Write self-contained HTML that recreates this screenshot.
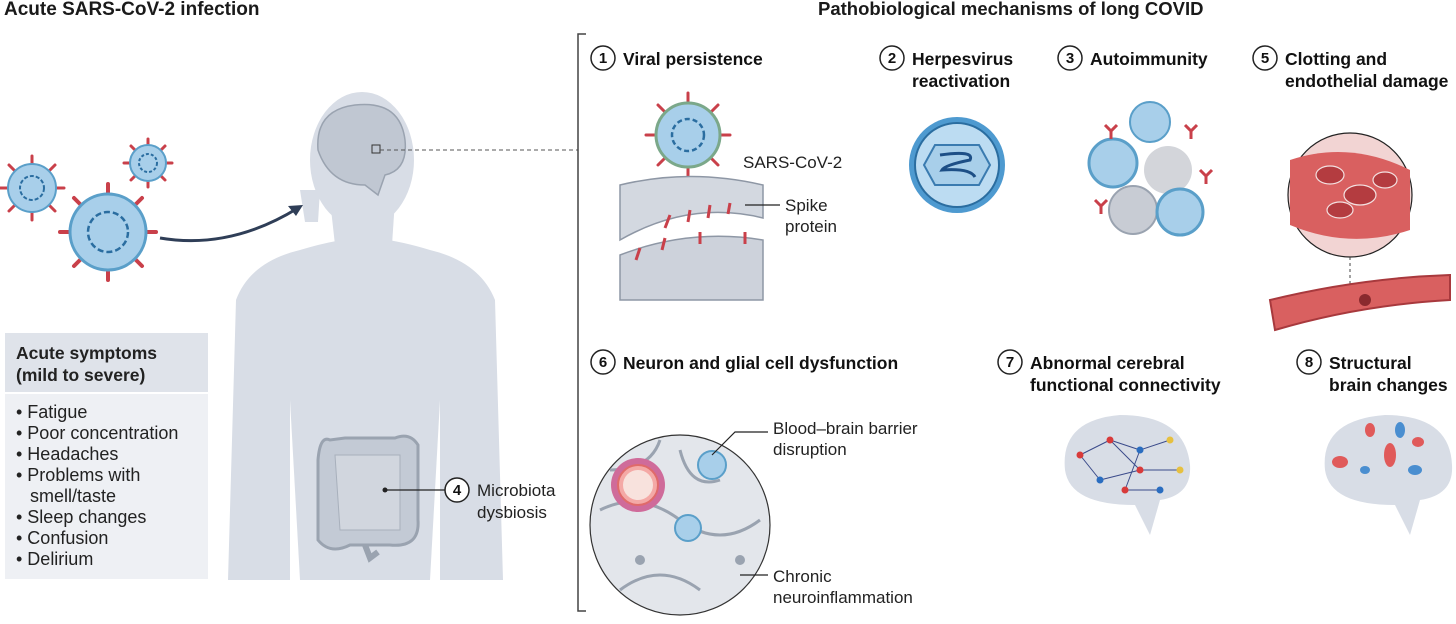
<!DOCTYPE html>
<html><head><meta charset="utf-8"><style>
html,body{margin:0;padding:0;background:#fff;}
svg{display:block;font-family:"Liberation Sans",sans-serif;}
.t{font-weight:bold;fill:#1a1a1a;}
.l{font-size:17px;fill:#222;}
.n{font-weight:bold;font-size:15px;fill:#111;}
.h{font-weight:bold;font-size:17.5px;fill:#111;}
</style></head><body>
<svg width="1456" height="624" viewBox="0 0 1456 624" xmlns="http://www.w3.org/2000/svg">
<text x="4" y="15" class="t" font-size="19">Acute SARS-CoV-2 infection</text>
<text x="818" y="15" class="t" font-size="18.5">Pathobiological mechanisms of long COVID</text>

<g fill="#d8dde6">
  <ellipse cx="362" cy="160" rx="52" ry="68"/>
  <path d="M330,200 L395,200 L392,245 L335,245 Z"/>
  <path d="M300,190 L320,190 L318,222 L305,222 Z"/>
  <path d="M300,250 Q340,238 365,238 Q390,238 430,250 Q480,262 495,300 L503,580 L440,580 L440,400 L430,580 L300,580 L290,400 L290,580 L228,580 L236,300 Q250,262 300,250 Z"/>
</g>
<path d="M318,150 Q315,110 355,105 Q400,100 405,140 Q408,170 385,175 L378,195 L365,185 Q330,185 318,150 Z" fill="#c0c7d2" stroke="#9aa3b0" stroke-width="1.5"/>
<rect x="372" y="145" width="8" height="8" fill="none" stroke="#333" stroke-width="1"/>
<line x1="380" y1="150" x2="578" y2="150" stroke="#555" stroke-width="1" stroke-dasharray="4,3"/>
<path d="M330,440 Q320,435 318,460 L318,540 Q330,555 350,545 L390,545 Q420,548 418,520 L418,445 Q410,432 395,438 L345,438 Z" fill="#c3cad5" stroke="#9aa3b0" stroke-width="3"/>
<path d="M335,455 L400,455 L400,530 L340,530 Z" fill="#d1d6de" stroke="#a8b0bc" stroke-width="1"/>
<path d="M365,545 L370,558 L378,552" fill="none" stroke="#9aa3b0" stroke-width="6"/>
<line x1="385" y1="490" x2="445" y2="490" stroke="#222" stroke-width="1.2"/>
<circle cx="385" cy="490" r="2.5" fill="#222"/>
<circle cx="457" cy="490" r="12" fill="#fff" stroke="#222" stroke-width="1.5"/><text x="457" y="495" text-anchor="middle" class="n">4</text>
<text x="477" y="496" class="l">Microbiota</text><text x="477" y="518" class="l">dysbiosis</text>

<path d="M160,238 Q230,250 298,208" fill="none" stroke="#2f3e57" stroke-width="3"/>
<path d="M303,205 L288,206 L296,216 Z" fill="#2f3e57"/>

<g>
  <g transform="translate(32,188)">
    <g stroke="#c9404a" stroke-width="3" stroke-linecap="round">
      <line x1="0" y1="-24" x2="0" y2="-32"/><line x1="0" y1="24" x2="0" y2="32"/><line x1="-24" y1="0" x2="-32" y2="0"/><line x1="24" y1="0" x2="32" y2="0"/>
      <line x1="17" y1="17" x2="23" y2="23"/><line x1="-17" y1="17" x2="-23" y2="23"/><line x1="17" y1="-17" x2="23" y2="-23"/><line x1="-17" y1="-17" x2="-23" y2="-23"/>
    </g>
    <circle r="24" fill="#a8cfea" stroke="#5a9fc9" stroke-width="2"/>
    <circle r="12" fill="none" stroke="#2a6da0" stroke-width="2" stroke-dasharray="4,2"/>
  </g>
  <g transform="translate(148,163)">
    <g stroke="#c9404a" stroke-width="3" stroke-linecap="round">
      <line x1="0" y1="-18" x2="0" y2="-24"/><line x1="0" y1="18" x2="0" y2="24"/><line x1="-18" y1="0" x2="-24" y2="0"/><line x1="18" y1="0" x2="24" y2="0"/>
      <line x1="13" y1="13" x2="17" y2="17"/><line x1="-13" y1="13" x2="-17" y2="17"/><line x1="13" y1="-13" x2="17" y2="-17"/><line x1="-13" y1="-13" x2="-17" y2="-17"/>
    </g>
    <circle r="18" fill="#a8cfea" stroke="#5a9fc9" stroke-width="2"/>
    <circle r="9" fill="none" stroke="#2a6da0" stroke-width="2" stroke-dasharray="3,2"/>
  </g>
  <g transform="translate(108,232)">
    <g stroke="#c9404a" stroke-width="4" stroke-linecap="round">
      <line x1="0" y1="-38" x2="0" y2="-48"/><line x1="0" y1="38" x2="0" y2="48"/><line x1="-38" y1="0" x2="-48" y2="0"/><line x1="38" y1="0" x2="48" y2="0"/>
      <line x1="27" y1="27" x2="34" y2="34"/><line x1="-27" y1="27" x2="-34" y2="34"/><line x1="27" y1="-27" x2="34" y2="-34"/><line x1="-27" y1="-27" x2="-34" y2="-34"/>
    </g>
    <circle r="38" fill="#a8cfea" stroke="#5a9fc9" stroke-width="3"/>
    <circle r="20" fill="none" stroke="#2a6da0" stroke-width="2.5" stroke-dasharray="6,3"/>
  </g>
</g>

<rect x="5" y="333" width="203" height="59" fill="#dfe3ea"/>
<rect x="5" y="394" width="203" height="185" fill="#eef0f4"/>
<text x="16" y="359" font-weight="bold" font-size="17.5" fill="#222">Acute symptoms</text>
<text x="16" y="381" font-weight="bold" font-size="17.5" fill="#222">(mild to severe)</text>
<g font-size="18" fill="#222">
<text x="16" y="418">• Fatigue</text>
<text x="16" y="439">• Poor concentration</text>
<text x="16" y="460">• Headaches</text>
<text x="16" y="481">• Problems with</text>
<text x="30" y="502">smell/taste</text>
<text x="16" y="523">• Sleep changes</text>
<text x="16" y="544">• Confusion</text>
<text x="16" y="565">• Delirium</text>
</g>

<path d="M586,34 L578,34 L578,611 L586,611" fill="none" stroke="#444" stroke-width="1.5"/>

<g>
<circle cx="603" cy="58" r="12" fill="#fff" stroke="#222" stroke-width="1.5"/><text x="603" y="63" text-anchor="middle" class="n">1</text>
<text x="623" y="65" class="h">Viral persistence</text>
<circle cx="892" cy="58" r="12" fill="#fff" stroke="#222" stroke-width="1.5"/><text x="892" y="63" text-anchor="middle" class="n">2</text>
<text x="912" y="65" class="h">Herpesvirus</text><text x="912" y="87" class="h">reactivation</text>
<circle cx="1070" cy="58" r="12" fill="#fff" stroke="#222" stroke-width="1.5"/><text x="1070" y="63" text-anchor="middle" class="n">3</text>
<text x="1090" y="65" class="h">Autoimmunity</text>
<circle cx="1265" cy="58" r="12" fill="#fff" stroke="#222" stroke-width="1.5"/><text x="1265" y="63" text-anchor="middle" class="n">5</text>
<text x="1285" y="65" class="h">Clotting and</text><text x="1285" y="87" class="h">endothelial damage</text>
<circle cx="603" cy="362" r="12" fill="#fff" stroke="#222" stroke-width="1.5"/><text x="603" y="367" text-anchor="middle" class="n">6</text>
<text x="623" y="369" class="h">Neuron and glial cell dysfunction</text>
<circle cx="1010" cy="362" r="12" fill="#fff" stroke="#222" stroke-width="1.5"/><text x="1010" y="367" text-anchor="middle" class="n">7</text>
<text x="1030" y="369" class="h">Abnormal cerebral</text><text x="1030" y="391" class="h">functional connectivity</text>
<circle cx="1309" cy="362" r="12" fill="#fff" stroke="#222" stroke-width="1.5"/><text x="1309" y="367" text-anchor="middle" class="n">8</text>
<text x="1329" y="369" class="h">Structural</text><text x="1329" y="391" class="h">brain changes</text>
</g>

<g transform="translate(688,135)">
  <g stroke="#c9404a" stroke-width="3" stroke-linecap="round">
    <line x1="0" y1="-32" x2="0" y2="-42"/><line x1="0" y1="32" x2="0" y2="42"/><line x1="-32" y1="0" x2="-42" y2="0"/><line x1="32" y1="0" x2="42" y2="0"/>
    <line x1="23" y1="23" x2="30" y2="30"/><line x1="-23" y1="23" x2="-30" y2="30"/><line x1="23" y1="-23" x2="30" y2="-30"/><line x1="-23" y1="-23" x2="-30" y2="-30"/>
  </g>
  <circle r="32" fill="#a8cfea" stroke="#7ba88a" stroke-width="3"/>
  <circle r="16" fill="none" stroke="#2a6da0" stroke-width="2.5" stroke-dasharray="5,3"/>
</g>
<text x="743" y="168" class="l">SARS-CoV-2</text>
<path d="M620,185 Q690,168 763,185 L763,218 Q690,200 620,240 Z" fill="#d3d8e0" stroke="#8e97a5" stroke-width="1.5"/>
<path d="M620,255 Q690,228 763,240 L763,300 L620,300 Z" fill="#cdd2db" stroke="#8e97a5" stroke-width="1.5"/>
<g stroke="#c9404a" stroke-width="3">
<line x1="670" y1="215" x2="665" y2="228"/><line x1="690" y1="210" x2="688" y2="222"/><line x1="710" y1="205" x2="708" y2="218"/><line x1="730" y1="203" x2="728" y2="214"/>
<line x1="640" y1="248" x2="636" y2="260"/><line x1="665" y1="238" x2="662" y2="250"/><line x1="700" y1="232" x2="700" y2="244"/><line x1="745" y1="232" x2="745" y2="244"/>
</g>
<line x1="745" y1="205" x2="780" y2="205" stroke="#222" stroke-width="1.2"/>
<text x="785" y="211" class="l">Spike</text><text x="785" y="232" class="l">protein</text>

<circle cx="957" cy="165" r="48" fill="#4e9ad0"/>
<circle cx="957" cy="165" r="42" fill="#bcdcf2" stroke="#2a6da0" stroke-width="2"/>
<path d="M935,145 L979,145 L990,165 L979,185 L935,185 L924,165 Z" fill="#a8cfea" stroke="#3a7bb0" stroke-width="2"/>
<path d="M940,155 Q975,150 970,160 Q945,165 942,170 Q970,168 975,177" fill="none" stroke="#1d4f86" stroke-width="3"/>

<g>
<circle cx="1113" cy="163" r="24" fill="#a8cfea" stroke="#5a9fc9" stroke-width="3"/>
<circle cx="1168" cy="170" r="24" fill="#d3d5da"/>
<circle cx="1150" cy="122" r="20" fill="#a8cfea" stroke="#5a9fc9" stroke-width="2"/>
<circle cx="1133" cy="210" r="24" fill="#c8ccd4" stroke="#9aa3b0" stroke-width="2"/>
<circle cx="1180" cy="212" r="23" fill="#a8cfea" stroke="#5a9fc9" stroke-width="3"/>
<g stroke="#c9404a" stroke-width="3" fill="none">
<path d="M1105,125 l6,6 l6,-6 M1111,131 l0,8"/><path d="M1185,125 l6,6 l6,-6 M1191,131 l0,8"/>
<path d="M1095,200 l6,6 l6,-6 M1101,206 l0,8"/><path d="M1200,170 l6,6 l6,-6 M1206,176 l0,8"/>
</g>
</g>

<circle cx="1350" cy="195" r="62" fill="#f2d4d3" stroke="#222" stroke-width="1.2"/>
<path d="M1290,160 Q1350,140 1410,170 L1410,230 Q1350,250 1290,225 Z" fill="#d96060"/>
<g fill="#b43c40" stroke="#f3e0e0" stroke-width="1.2">
<ellipse cx="1330" cy="175" rx="14" ry="9"/><ellipse cx="1360" cy="195" rx="16" ry="10"/><ellipse cx="1385" cy="180" rx="12" ry="8"/><ellipse cx="1340" cy="210" rx="13" ry="8"/>
</g>
<line x1="1350" y1="257" x2="1350" y2="300" stroke="#444" stroke-dasharray="3,3"/>
<path d="M1270,300 Q1360,278 1450,275 L1450,300 Q1360,305 1275,330 Z" fill="#d96060" stroke="#a8393d" stroke-width="2"/>
<circle cx="1365" cy="300" r="6" fill="#8a2a2e"/>

<circle cx="680" cy="525" r="90" fill="#e3e6eb" stroke="#333" stroke-width="1.2"/>
<g stroke="#9aa3b0" stroke-width="3" fill="none">
<path d="M600,510 Q640,490 680,520 Q720,550 760,520"/><path d="M620,590 Q660,560 700,590"/><path d="M680,450 Q690,490 720,480"/><path d="M610,470 Q650,470 660,440"/>
</g>
<circle cx="638" cy="485" r="27" fill="#cf6b9a"/><circle cx="638" cy="485" r="20" fill="#f4a9a6" stroke="#e06a6a" stroke-width="2"/><circle cx="638" cy="485" r="15" fill="#f8e2dd"/>
<circle cx="712" cy="465" r="14" fill="#a8cfea" stroke="#5a9fc9" stroke-width="2"/>
<circle cx="688" cy="528" r="13" fill="#a8cfea" stroke="#5a9fc9" stroke-width="2"/>
<circle cx="740" cy="560" r="5" fill="#9aa3b0"/><circle cx="640" cy="560" r="5" fill="#9aa3b0"/>
<path d="M712,455 L735,432 L768,432" fill="none" stroke="#222" stroke-width="1.2"/>
<text x="773" y="434" class="l">Blood–brain barrier</text><text x="773" y="455" class="l">disruption</text>
<line x1="740" y1="575" x2="768" y2="575" stroke="#222" stroke-width="1.2"/>
<text x="773" y="582" class="l">Chronic</text><text x="773" y="603" class="l">neuroinflammation</text>

<path d="M1065,470 Q1060,420 1120,415 Q1185,415 1190,465 Q1192,495 1160,500 L1150,535 L1135,505 Q1070,505 1065,470 Z" fill="#d8dde6"/>
<g stroke="#3a4a8a" stroke-width="1">
<line x1="1080" y1="455" x2="1110" y2="440"/><line x1="1110" y1="440" x2="1140" y2="450"/><line x1="1140" y1="450" x2="1170" y2="440"/><line x1="1080" y1="455" x2="1100" y2="480"/><line x1="1100" y1="480" x2="1140" y2="470"/><line x1="1140" y1="470" x2="1180" y2="470"/><line x1="1110" y1="440" x2="1140" y2="470"/><line x1="1140" y1="450" x2="1125" y2="490"/><line x1="1125" y1="490" x2="1160" y2="490"/>
</g>
<g fill="#d83a3a"><circle cx="1110" cy="440" r="3.5"/><circle cx="1140" cy="470" r="3.5"/><circle cx="1125" cy="490" r="3.5"/><circle cx="1080" cy="455" r="3.5"/></g>
<g fill="#2a6dc0"><circle cx="1140" cy="450" r="3.5"/><circle cx="1100" cy="480" r="3.5"/><circle cx="1160" cy="490" r="3.5"/></g>
<g fill="#e6c040"><circle cx="1170" cy="440" r="3.5"/><circle cx="1180" cy="470" r="3.5"/></g>

<path d="M1325,470 Q1320,420 1385,415 Q1450,415 1452,465 Q1454,495 1420,500 L1410,535 L1395,505 Q1330,505 1325,470 Z" fill="#d8dde6"/>
<g fill="#e05a5a"><ellipse cx="1340" cy="462" rx="8" ry="6"/><ellipse cx="1390" cy="455" rx="6" ry="12"/><ellipse cx="1370" cy="430" rx="5" ry="7"/><ellipse cx="1418" cy="442" rx="6" ry="5"/></g>
<g fill="#4a8ed0"><ellipse cx="1400" cy="430" rx="5" ry="8"/><ellipse cx="1415" cy="470" rx="7" ry="5"/><ellipse cx="1365" cy="470" rx="5" ry="4"/></g>
</svg>
</body></html>
